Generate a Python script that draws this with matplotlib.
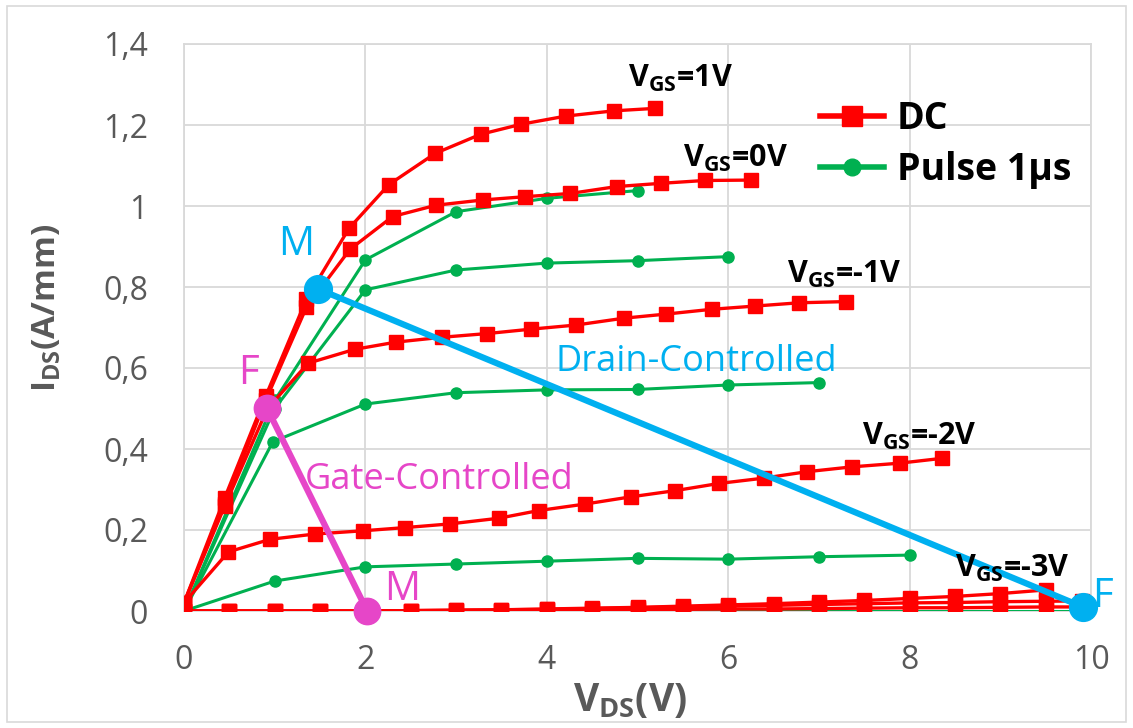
import numpy as np
import matplotlib
matplotlib.use("Agg")
import matplotlib.pyplot as plt
from matplotlib.patches import Rectangle

plt.rcParams["font.family"] = ["Open Sans", "DejaVu Sans"]
plt.rcParams["mathtext.fontset"] = "custom"
plt.rcParams["mathtext.rm"] = "Open Sans"
plt.rcParams["mathtext.bf"] = "Open Sans:bold"

# DC curves (red squares)
dc_1v_x = [0, 0.45, 0.9, 1.35, 1.82, 2.26, 2.77, 3.27, 3.72, 4.21, 4.74, 5.19]
dc_1v_y = [0.02, 0.28, 0.53, 0.77, 0.945, 1.053, 1.13, 1.177, 1.202, 1.222, 1.235, 1.241]
dc_0v_x = [0, 0.45, 0.9, 1.35, 1.83, 2.30, 2.78, 3.30, 3.76, 4.26, 4.77, 5.26, 5.74, 6.25]
dc_0v_y = [0.02, 0.265, 0.52, 0.75, 0.893, 0.974, 1.002, 1.015, 1.023, 1.031, 1.048, 1.056, 1.063, 1.064]
dc_m1v_x = [0, 0.45, 0.92, 1.37, 1.88, 2.34, 2.85, 3.34, 3.83, 4.32, 4.85, 5.31, 5.82, 6.30, 6.78, 7.30]
dc_m1v_y = [0.02, 0.26, 0.50, 0.612, 0.646, 0.664, 0.676, 0.685, 0.696, 0.706, 0.723, 0.733, 0.745, 0.753, 0.761, 0.764]
dc_m2v_x = [0, 0.49, 0.95, 1.44, 1.97, 2.44, 2.93, 3.47, 3.91, 4.42, 4.93, 5.41, 5.90, 6.39, 6.87, 7.37, 7.89, 8.36]
dc_m2v_y = [0.02, 0.146, 0.177, 0.19, 0.198, 0.206, 0.215, 0.229, 0.248, 0.264, 0.282, 0.297, 0.315,
            0.328, 0.344, 0.356, 0.365, 0.377]
dc_m3v_x = [0, 0.5, 1.0, 1.5, 2.0, 2.5, 3.0, 3.5, 4.0, 4.5, 5.0, 5.5, 6.0, 6.5, 7.0, 7.5, 8.0, 8.5, 9.0, 9.5]
dc_m3v_y = [0.0, 0.0, 0.0, 0.0, 0.0, 0.001, 0.002, 0.003, 0.005, 0.007, 0.009, 0.012, 0.015, 0.018,
            0.022, 0.026, 0.031, 0.036, 0.043, 0.052]
dc_m4v_x = [0, 0.5, 1.0, 1.5, 2.0, 2.5, 3.0, 3.5, 4.0, 4.5, 5.0, 5.5, 6.0, 6.5, 7.0, 7.5, 8.0, 8.5, 9.0, 9.5, 9.9]
dc_m4v_y = [0.0, 0.0, 0.0, 0.0, 0.0, 0.001, 0.002, 0.003, 0.004, 0.006, 0.008, 0.010, 0.012, 0.014,
            0.016, 0.018, 0.020, 0.021, 0.023, 0.024, 0.025]
dc_m5v_x = [0, 0.5, 1.0, 1.5, 2.0, 2.5, 3.0, 3.5, 4.0, 4.5, 5.0, 5.5, 6.0, 6.5, 7.0, 7.5, 8.0, 8.5, 9.0, 9.5, 9.9]
dc_m5v_y = [0.0, 0.0, 0.0, 0.0, 0.0, 0.0, 0.001, 0.001, 0.002, 0.002, 0.003, 0.004, 0.005, 0.005,
            0.006, 0.007, 0.008, 0.008, 0.009, 0.010, 0.010]

# Pulse 1us curves (green circles)
p_1_x = [0, 1, 2, 3, 4, 5]
p_1_y = [0, 0.52, 0.867, 0.986, 1.019, 1.038]
p_2_x = [0, 1, 2, 3, 4, 5, 6]
p_2_y = [0, 0.50, 0.793, 0.842, 0.859, 0.865, 0.875]
p_3_x = [0, 0.98, 2, 3, 4, 5, 6, 7]
p_3_y = [0, 0.418, 0.511, 0.539, 0.546, 0.547, 0.558, 0.564]
p_4_x = [0, 1, 2, 3, 4, 5, 6, 7, 8]
p_4_y = [0, 0.074, 0.109, 0.116, 0.123, 0.130, 0.128, 0.134, 0.138]
p_5_x = [0, 1, 2, 3, 4, 5, 6, 7, 8, 9, 10]
p_5_y = [0, 0, 0, 0, 0, 0, 0, 0, 0, 0, 0]

# load lines
drain_x = [1.48, 9.91]
drain_y = [0.795, 0.01]
gate_x = [0.915, 2.02]
gate_y = [0.501, 0.0]

vgs_labels = ["1V", "0V", "-1V", "-2V", "-3V"]
vgs_x = [4.90, 5.50, 6.65, 7.48, 8.50]
vgs_y = [1.295, 1.097, 0.81, 0.41, 0.085]

red = "#FF0000"
green = "#00B050"
blue = "#00B0F0"
magenta = "#E646C8"
gray = "#595959"
grid = "#D9D9D9"

fig = plt.figure(figsize=(11.33, 7.28), dpi=100)
ax = fig.add_axes([184 / 1133, 1 - 611 / 728, (1091 - 184) / 1133, (611 - 44) / 728])

fig.patches.append(Rectangle((7 / 1133, 6 / 728), 1 - 14 / 1133, 1 - 12 / 728,
                             transform=fig.transFigure, fill=False, edgecolor=grid, lw=1.2))

for xs, ys in [(p_5_x, p_5_y), (p_4_x, p_4_y), (p_3_x, p_3_y), (p_2_x, p_2_y), (p_1_x, p_1_y)]:
    ax.plot(xs, ys, "-o", color=green, lw=2.2, ms=8, zorder=3)

for xs, ys in [(dc_m5v_x, dc_m5v_y), (dc_m4v_x, dc_m4v_y), (dc_m3v_x, dc_m3v_y),
               (dc_m2v_x, dc_m2v_y), (dc_m1v_x, dc_m1v_y), (dc_0v_x, dc_0v_y), (dc_1v_x, dc_1v_y)]:
    ax.plot(xs, ys, "-s", color=red, lw=2.4, ms=10, zorder=4)

# legend proxies
ax.plot([], [], "-s", color=red, lw=4, ms=14, label="DC")
ax.plot([], [], "-o", color=green, lw=4, ms=12, label="Pulse 1µs")

ax.plot(drain_x, drain_y, "-o", color=blue, lw=4.5, ms=20, zorder=6, clip_on=False)
ax.plot(gate_x, gate_y, "-o", color=magenta, lw=4.5, ms=19, zorder=6, clip_on=False)

ax.text(1.235, 0.904, "M", color=blue, fontsize=29, ha="center", va="center")
ax.text(10.13, 0.035, "F", color=blue, fontsize=29, ha="center", va="center", clip_on=False)
ax.text(0.706, 0.585, "F", color=magenta, fontsize=29, ha="center", va="center")
ax.text(2.41, 0.052, "M", color=magenta, fontsize=29, ha="center", va="center")
ax.text(4.10, 0.615, "Drain-Controlled", color=blue, fontsize=26, ha="left", va="center")
ax.text(1.33, 0.323, "Gate-Controlled", color=magenta, fontsize=26, ha="left", va="center")

for lab, x, y in zip(vgs_labels, vgs_x, vgs_y):
    ax.text(x, y, r"$\mathbf{V_{GS}}$=" + lab, fontsize=22, fontweight="bold",
            color="black", ha="left", va="baseline", zorder=7)

ax.set_xlim(0, 10)
ax.set_ylim(0, 1.4)
ax.set_xticks(np.arange(0, 11, 2))
ax.set_yticks(np.arange(0, 1.41, 0.2))
ax.set_yticklabels(["0", "0,2", "0,4", "0,6", "0,8", "1", "1,2", "1,4"])
ax.tick_params(axis="both", length=0, labelsize=23, labelcolor=gray)
ax.tick_params(axis="y", pad=26)
ax.tick_params(axis="x", pad=24)
ax.grid(True, color=grid, lw=1.3, zorder=0)
ax.set_axisbelow(True)
for s in ax.spines.values():
    s.set_color(grid)
    s.set_linewidth(1.3)

fig.text(47 / 1133, 1 - 308 / 728, r"$\mathbf{I_{DS}}$(A/mm)", rotation=90, fontsize=24,
         fontweight="bold", color=gray, ha="center", va="center")
fig.text(630 / 1133, 1 - 700 / 728, r"$\mathbf{V_{DS}}$(V)", fontsize=28,
         fontweight="bold", color=gray, ha="center", va="center")

ax.legend(loc="upper left", bbox_to_anchor=(820 / 1133, 1 - 100 / 728),
          bbox_transform=fig.transFigure, frameon=False, borderpad=0, borderaxespad=0,
          handlelength=1.7, handletextpad=0.35, labelspacing=0.35,
          prop={"size": 27, "weight": "bold"})

fig.savefig("out.png", dpi=100)
